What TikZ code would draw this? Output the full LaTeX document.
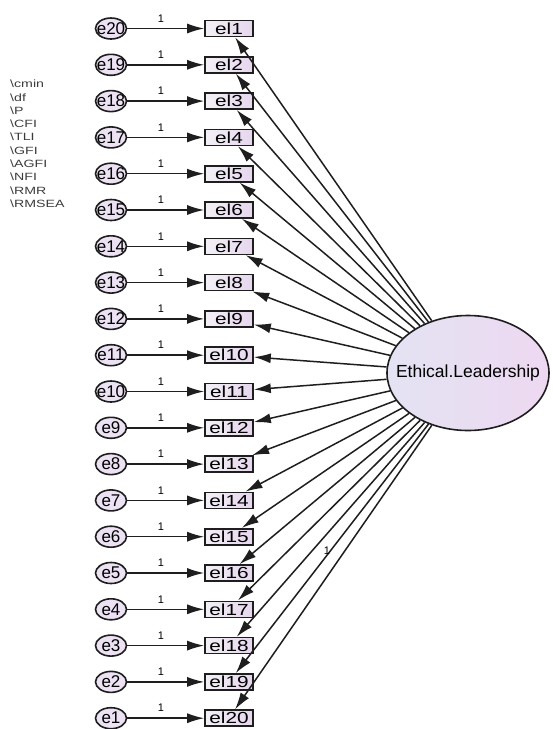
\documentclass[tikz,border=0pt]{standalone}
\usepackage{fontspec}
\usepackage{graphicx}
\setmainfont{Liberation Sans}
\usetikzlibrary{arrows.meta,shapes.geometric}

\definecolor{errfill}{HTML}{ECE2F3}
\definecolor{boxleft}{HTML}{F3F0F6}
\definecolor{boxright}{HTML}{E6D6EE}
\definecolor{latleft}{HTML}{E3E3F3}
\definecolor{latright}{HTML}{EED8F1}
\definecolor{fitgray}{HTML}{3C3C3C}
\definecolor{inkline}{HTML}{1E1E1E}

% horizontally widened label text
\newcommand{\widelbl}[2]{\scalebox{#1}[1]{#2}}
% label that does not enlarge its shape
\newcommand{\flatlbl}[1]{\makebox[0pt]{#1}}

\begin{document}
\begin{tikzpicture}[x=1pt,y=-1pt,
  errvar/.style={ellipse, draw=inkline, line width=1.6pt, fill=errfill,
    minimum width=31pt, minimum height=21pt, inner sep=0pt,
    font=\fontsize{17}{17}\selectfont},
  obsbox/.style={rectangle, draw=inkline, line width=1.6pt,
    left color=boxleft, right color=boxright,
    minimum width=48pt, minimum height=16pt, inner sep=0pt,
    font=\fontsize{16}{16}\selectfont},
  latent/.style={ellipse, draw=inkline, line width=1.6pt,
    left color=latleft, right color=latright,
    minimum width=162pt, minimum height=115pt, inner sep=0pt,
    font=\fontsize{17.5}{18}\selectfont},
  regpath/.style={draw=inkline, line width=1.5pt,
    -{Latex[length=17pt,width=10pt]}},
  weight/.style={font=\fontsize{11}{11}\selectfont, inner sep=0pt},
  fitline/.style={anchor=west, inner sep=0pt, text=fitgray,
    font=\fontsize{10.5}{11}\selectfont}
]
\useasboundingbox (0,0) rectangle (553,729);

% latent factor
\node[latent] (L) at (468,373) {\flatlbl{Ethical.Leadership}};

% indicators with their error terms
\foreach \i in {1,...,20} {
  \pgfmathsetmacro\yy{28.5+(\i-1)*36.3}
  \pgfmathtruncatemacro\ee{21-\i}
  \node[obsbox] (el\i) at (229,\yy) {\flatlbl{\widelbl{1.3}{el\i}}};
  \node[errvar] (e\ee) at (111,\yy) {\flatlbl{e\ee}};
  \draw[regpath] (e\ee) -- (el\i);
  \node[weight] (w\i) at (161,\yy-10) {1};
}

% factor loadings
\foreach \i in {1,...,20} {
  \draw[regpath] (L) -- (el\i);
}
\node[weight] (wL) at (327,551) {1};

% fit index placeholders
\foreach \t [count=\k] in {cmin,df,P,CFI,TLI,GFI,AGFI,NFI,RMR,RMSEA} {
  \pgfmathsetmacro\fy{84+(\k-1)*13.3}
  \node[fitline] (fit\k) at (10,\fy) {\widelbl{1.35}{\textbackslash\t}};
}
\end{tikzpicture}
\end{document}
